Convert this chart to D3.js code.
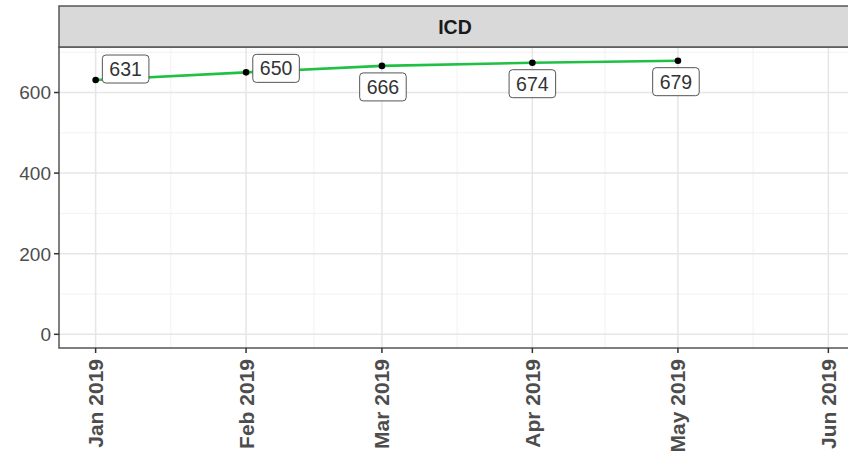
<!DOCTYPE html>
<html>
<head>
<meta charset="utf-8">
<script src="https://cdn.jsdelivr.net/npm/d3@7"></script>
<style>
body { margin: 0; background: #fff; }
text { font-family: "Liberation Sans", Arial, sans-serif; }
</style>
</head>
<body>
<script>
// data
var months = ["2019-01-01", "2019-02-01", "2019-03-01", "2019-04-01", "2019-05-01"];
var values = [631, 650, 666, 674, 679];
var panelTitle = "ICD";
var yTicks = [0, 200, 400, 600];
var xTicks = ["2019-01-01", "2019-02-01", "2019-03-01", "2019-04-01", "2019-05-01", "2019-06-01"];

// where the repelled labels ended up, relative to the point
var nudge = [[30, -11], [30, -4], [1, 21], [0, 21], [-2, 21]];

var width = 848;
var height = 453;
var parse = d3.utcParse("%Y-%m-%d");
var fmt = d3.utcFormat("%b %Y");

var panel = {left: 59, right: 865, top: 47, bottom: 348};

var svg = d3.select("body").append("svg")
	.attr("width", width)
	.attr("height", height);

// x limits Jan..Jun with 5% expansion like ggplot
var x0 = parse(xTicks[0]), x1 = parse(xTicks[xTicks.length - 1]);
var pad = (x1 - x0) * 0.05;
var x = d3.scaleUtc()
	.domain([new Date(+x0 - pad), new Date(+x1 + pad)])
	.range([panel.left, panel.right]);

var yMax = d3.max(values);
var yPad = yMax * 0.05;
var y = d3.scaleLinear()
	.domain([0 - yPad, yMax + yPad])
	.range([panel.bottom, panel.top]);

// panel background
svg.append("rect")
	.attr("x", panel.left).attr("y", panel.top)
	.attr("width", panel.right - panel.left).attr("height", panel.bottom - panel.top)
	.attr("fill", "#fff");

// minor grid
var xMinor = [];
for (var i = 0; i < xTicks.length - 1; i++) {
	var a = parse(xTicks[i]), b = parse(xTicks[i + 1]);
	xMinor.push(new Date((+a + +b) / 2));
}
var yMinor = [100, 300, 500, 700];

svg.selectAll("line.xminor").data(xMinor).enter().append("line")
	.attr("x1", d => x(d)).attr("x2", d => x(d))
	.attr("y1", panel.top).attr("y2", panel.bottom)
	.attr("stroke", "#f2f2f2").attr("stroke-width", 1);
svg.selectAll("line.yminor").data(yMinor).enter().append("line")
	.attr("x1", panel.left).attr("x2", panel.right)
	.attr("y1", d => y(d)).attr("y2", d => y(d))
	.attr("stroke", "#f2f2f2").attr("stroke-width", 1);

// major grid
svg.selectAll("line.xmajor").data(xTicks).enter().append("line")
	.attr("x1", d => x(parse(d))).attr("x2", d => x(parse(d)))
	.attr("y1", panel.top).attr("y2", panel.bottom)
	.attr("stroke", "#e6e6e6").attr("stroke-width", 1.5);
svg.selectAll("line.ymajor").data(yTicks).enter().append("line")
	.attr("x1", panel.left).attr("x2", panel.right)
	.attr("y1", d => y(d)).attr("y2", d => y(d))
	.attr("stroke", "#e6e6e6").attr("stroke-width", 1.5);

// the line
var data = months.map((m, i) => ({date: parse(m), value: values[i]}));
svg.append("path")
	.datum(data)
	.attr("fill", "none")
	.attr("stroke", "#1fc043")
	.attr("stroke-width", 2.6)
	.attr("d", d3.line().x(d => x(d.date)).y(d => y(d.value)));

svg.selectAll("circle.pt").data(data).enter().append("circle")
	.attr("cx", d => x(d.date)).attr("cy", d => y(d.value))
	.attr("r", 3.3)
	.attr("fill", "#000");

// labels (geom_label style)
var lab = svg.selectAll("g.lab").data(data).enter().append("g")
	.attr("transform", (d, i) => "translate(" + (x(d.date) + nudge[i][0]) + "," + (y(d.value) + nudge[i][1]) + ")");
lab.append("text")
	.attr("text-anchor", "middle")
	.attr("dy", "0.36em")
	.attr("font-size", 19.5)
	.attr("fill", "#333")
	.text(d => d.value);
lab.each(function() {
	var g = d3.select(this);
	var w = g.select("text").node().getComputedTextLength() + 14;
	g.insert("rect", "text")
		.attr("x", -w / 2).attr("y", -14)
		.attr("width", w).attr("height", 28)
		.attr("rx", 3.5)
		.attr("fill", "#fff")
		.attr("stroke", "#555")
		.attr("stroke-width", 1);
});

// panel border
svg.append("rect")
	.attr("x", panel.left).attr("y", panel.top)
	.attr("width", panel.right - panel.left).attr("height", panel.bottom - panel.top)
	.attr("fill", "none").attr("stroke", "#555").attr("stroke-width", 1.5);

// strip
svg.append("rect")
	.attr("x", panel.left).attr("y", 6)
	.attr("width", panel.right - panel.left).attr("height", panel.top - 6)
	.attr("fill", "#d9d9d9").attr("stroke", "#555").attr("stroke-width", 1.5);
svg.append("text")
	.attr("x", (panel.left + panel.right) / 2 - 7)
	.attr("y", (6 + panel.top) / 2)
	.attr("dy", "0.36em")
	.attr("text-anchor", "middle")
	.attr("font-size", 19.5)
	.attr("font-weight", "bold")
	.attr("fill", "#1a1a1a")
	.text(panelTitle);

// y axis
svg.selectAll("line.ytick").data(yTicks).enter().append("line")
	.attr("x1", panel.left - 5).attr("x2", panel.left)
	.attr("y1", d => y(d)).attr("y2", d => y(d))
	.attr("stroke", "#333").attr("stroke-width", 1.5);
svg.selectAll("text.ylab").data(yTicks).enter().append("text")
	.attr("x", panel.left - 8)
	.attr("y", d => y(d))
	.attr("dy", "0.36em")
	.attr("text-anchor", "end")
	.attr("font-size", 19)
	.attr("fill", "#4d4d4d")
	.text(d => d);

// x axis
svg.selectAll("line.xtick").data(xTicks).enter().append("line")
	.attr("x1", d => x(parse(d))).attr("x2", d => x(parse(d)))
	.attr("y1", panel.bottom).attr("y2", panel.bottom + 5)
	.attr("stroke", "#333").attr("stroke-width", 1.5);
svg.selectAll("text.xlab").data(xTicks).enter().append("text")
	.attr("transform", d => "translate(" + x(parse(d)) + "," + (panel.bottom + 11) + ") rotate(-90)")
	.attr("dy", "0.36em")
	.attr("text-anchor", "end")
	.attr("font-size", 21)
	.attr("font-weight", "bold")
	.attr("fill", "#4d4d4d")
	.text(d => fmt(parse(d)));
</script>
</body>
</html>
